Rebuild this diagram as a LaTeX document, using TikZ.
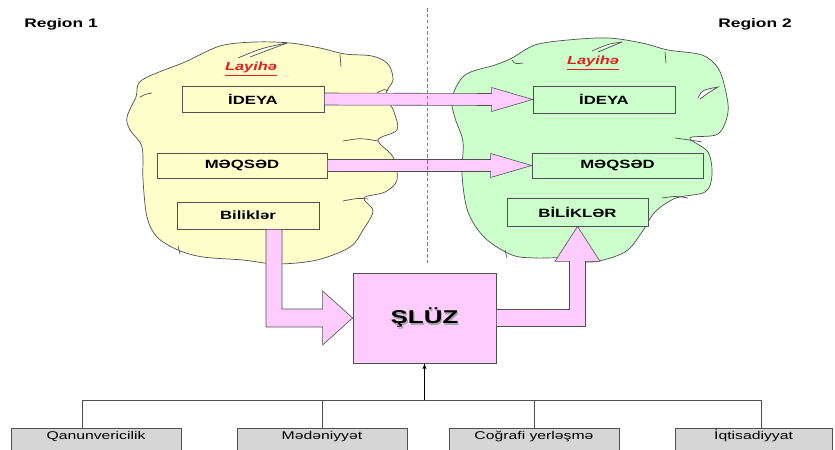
\documentclass[tikz,border=0pt]{standalone}
\usepackage{fontspec}
\setmainfont{Liberation Sans}[FakeStretch=1.4]
\usetikzlibrary{calc}
\definecolor{cloudY}{HTML}{FFFFCC}
\definecolor{cloudG}{HTML}{CCFFCC}
\definecolor{pinkA}{HTML}{FFCCFF}
\definecolor{boxG}{HTML}{D6D6D6}
\definecolor{edgeG}{HTML}{505050}
\definecolor{laRed}{HTML}{E02020}
\tikzset{
  idbox/.style={draw=edgeG, line width=0.6pt, inner sep=0pt, font=\bfseries\fontsize{10.2}{11}\selectfont},
  blk/.style={draw=edgeG, fill=pinkA, line width=0.5pt},
  botbox/.style={draw=edgeG, fill=boxG, line width=0.5pt, anchor=north, minimum width=5.1cm, minimum height=1.2cm, inner ysep=2.5pt, text height=7pt, text depth=24pt, font=\fontsize{9.6}{11}\selectfont},
  cloudline/.style={draw=edgeG, line width=0.6pt},
  regl/.style={font=\bfseries\fontsize{10.6}{12}\selectfont},
  layl/.style={text=laRed, font=\bfseries\itshape\fontsize{10}{11}\selectfont},
}
% horizontal block arrow from #1.east to #2.west
\newcommand{\harrow}[2]{\draw[blk] ($(#1.east)+(0,-6)$) -- ($(#2.west)+(-41,-6)$) -- ($(#2.west)+(-41,-12)$) -- (#2.west) -- ($(#2.west)+(-41,12)$) -- ($(#2.west)+(-41,6)$) -- ($(#1.east)+(0,6)$) -- cycle;}
\newcommand{\crease}[6]{\draw[cloudline, fill=white] (#1,#2) .. controls (#3,#4) .. (#5,#6);}

\begin{document}
\begin{tikzpicture}[x=0.03cm, y=-0.03cm]
        \useasboundingbox (0,0) rectangle (835,450);

        % region titles
        \node[regl] (reg1) at (61,24) {Region 1};
        \node[regl] (reg2) at (755,24) {Region 2};

        % cloud 1
        \draw[cloudline, fill=cloudY] plot[smooth cycle, tension=0.55] coordinates {
          (142,80) (185,62) (220,46) (255,42) (290,43) (320,48) (345,54) (372,56) (388,64) (393,80)
          (386,94) (394,112) (397,130) (378,140) (393,157) (397,180) (385,192) (364,198) (373,211)
          (363,230) (350,247) (317,260) (277,264) (243,260) (203,257) (178,250) (157,237) (147,217)
          (143,180) (142,147) (130,130) (127,117) (136,97)};
        \crease{238}{58}{262}{48}{287}{43}
        \draw[cloudline] (287,43) .. controls (268,50) .. (250,57);
        \draw[cloudline] (340,54) -- (341,67);
        \draw[cloudline] (377,93) .. controls (384,89) .. (388,91);
        \draw[cloudline] (343,141) .. controls (360,138) .. (378,141);
        \draw[cloudline] (343,201) .. controls (358,198) .. (368,199);
        \draw[cloudline] (140,97) .. controls (146,94) .. (152,93);
        \draw[cloudline] (178,246) -- (180,254);

        % cloud 2
        \draw[cloudline, fill=cloudG] plot[smooth cycle, tension=0.55] coordinates {
          (495,65) (512,58) (535,45) (568,40) (608,38) (642,43) (668,50) (702,55) (718,68) (725,88)
          (728,112) (718,134) (690,138) (708,152) (712,175) (705,192) (676,198) (655,212) (642,232)
          (625,252) (592,262) (562,258) (535,258) (512,255) (485,238) (468,212) (462,175) (463,142)
          (455,118) (452,98) (465,75)};
        \crease{592}{51}{608}{44}{622}{42}
        \draw[cloudline] (622,42) .. controls (610,47) .. (598,52);
        \draw[cloudline] (665,52) -- (666,63);
        \draw[cloudline] (512,60) .. controls (515,64) .. (523,63);
        \draw[cloudline, fill=white] (698,98) .. controls (702,90) .. (718,87) .. controls (708,93) .. (700,99);
        \draw[cloudline] (675,138) .. controls (690,140) .. (702,142);
        \draw[cloudline] (662,198) .. controls (676,196) .. (688,198);
        \draw[cloudline] (505,250) -- (507,258);

        % project labels
        \node[layl] (lay1) at (251,69) {\underline{Layihə}};
        \node[layl] (lay2) at (593,63) {\underline{Layihə}};

        % boxes of region 1
        \node[idbox, fill=cloudY, minimum width=4.26cm, minimum height=0.78cm] (ideyaL) at (253,99) {İDEYA};
        \node[idbox, fill=cloudY, minimum width=5.1cm, minimum height=0.75cm] (meqsedL) at (242,165.5) {MƏQSƏD};
        \node[idbox, fill=cloudY, minimum width=4.26cm, minimum height=0.81cm] (bilikL) at (248,215.5) {Biliklər};

        % boxes of region 2
        \node[idbox, fill=cloudG, minimum width=4.26cm, minimum height=0.81cm] (ideyaR) at (604,99.5) {İDEYA};
        \node[idbox, fill=cloudG, minimum width=5.13cm, minimum height=0.75cm] (meqsedR) at (617.5,165.5) {MƏQSƏD};
        \node[idbox, fill=cloudG, minimum width=4.23cm, minimum height=0.84cm] (bilikR) at (577.5,212) {BİLİKLƏR};

        % gateway
        \node[draw=edgeG, fill=pinkA, line width=0.6pt, minimum width=4.29cm, minimum height=2.7cm] (sluz) at (424.5,318) {};
        \node[text=gray!70, font=\bfseries\fontsize{15.8}{17}\selectfont] at ($(sluz.center)+(1.2,1.2)$) {ŞLÜZ};
        \node[font=\bfseries\fontsize{15.8}{17}\selectfont] (sluzt) at (sluz.center) {ŞLÜZ};

        % block arrows
        \harrow{ideyaL}{ideyaR}
        \harrow{meqsedL}{meqsedR}
        \coordinate (bk) at ($(bilikL.south)+(26,0)$);
        \draw[blk] ($(bk)+(-8,0)$) -- ($(bk |- sluz.west)+(-8,9)$) -- ($(sluz.west)+(-30,9)$) -- ($(sluz.west)+(-30,27)$)
          -- (sluz.west) -- ($(sluz.west)+(-30,-27)$) -- ($(sluz.west)+(-30,-9)$) -- ($(bk |- sluz.west)+(8,-9)$) -- ($(bk)+(8,0)$) -- cycle;
        \draw[blk] ($(sluz.east)+(0,8.5)$) -- ($(bilikR.south |- sluz.east)+(8,8.5)$) -- ($(bilikR.south)+(8,35)$) -- ($(bilikR.south)+(22.5,35)$)
          -- (bilikR.south) -- ($(bilikR.south)+(-22.5,35)$) -- ($(bilikR.south)+(-8,35)$) -- ($(bilikR.south |- sluz.east)+(-8,-8.5)$) -- ($(sluz.east)+(0,-8.5)$) -- cycle;
        \draw[gray, densely dashed, line width=0.4pt] (427,8) -- (427,265);

        % factors
        \node[botbox] (qanun) at (96,428) {Qanunvericilik};
        \node[botbox] (meden) at (322,428) {Mədəniyyət};
        \node[botbox] (cograf) at (534,428) {Coğrafi yerləşmə};
        \node[botbox, minimum width=4.71cm] (iqtis) at (753.5,428) {İqtisadiyyat};

        \coordinate (b1) at (82,400);
        \coordinate (b4) at (761,400);
        \draw[edgeG, line width=0.6pt] (b1) -- (b4);
        \draw[edgeG, line width=0.6pt] (b1) -- (b1 |- qanun.north);
        \draw[edgeG, line width=0.6pt] (meden.north |- b1) -- (meden.north);
        \draw[edgeG, line width=0.6pt] (cograf.north |- b1) -- (cograf.north);
        \draw[edgeG, line width=0.6pt] (b4) -- (b4 |- iqtis.north);
        \draw[line width=0.6pt, -latex] (sluz.south |- b1) -- (sluz.south);

    \end{tikzpicture}
\end{document}
